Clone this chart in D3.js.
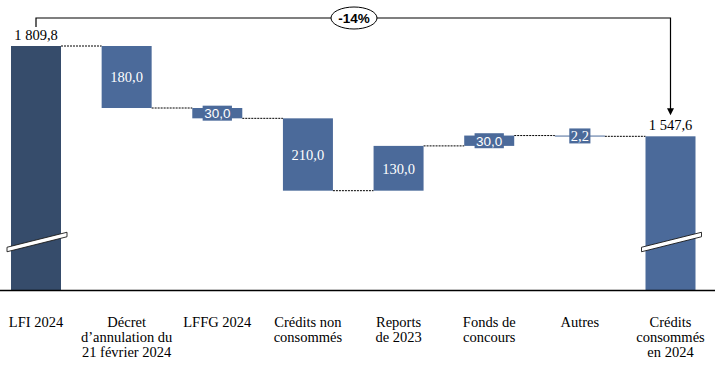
<!DOCTYPE html>
<html><head><meta charset="utf-8">
<script src="https://cdn.jsdelivr.net/npm/d3@7/dist/d3.min.js"></script>
<style>body{margin:0;background:#fff}svg{display:block}</style>
</head><body>
<svg id="c" width="723" height="369"></svg>
<script>
const categories = ["LFI 2024","Décret d’annulation du 21 février 2024","LFFG 2024","Crédits non consommés","Reports de 2023","Fonds de concours","Autres","Crédits consommés en 2024"];
const labelLines = [["LFI 2024"],["Décret","d’annulation du","21 février 2024"],["LFFG 2024"],["Crédits non","consommés"],["Reports","de 2023"],["Fonds de","concours"],["Autres"],["Crédits","consommés","en 2024"]];
const values = [1809.8,-180,-30,-210,130,30,-2.2,1547.6];
const kinds = ["total","delta","delta","delta","delta","delta","delta","total"];
const changeLabel = "-14%";

const SERIF = '"Liberation Serif"', SANS = '"Liberation Sans"';
const fr = d3.formatLocale({decimal:",",thousands:" ",grouping:[3],currency:["","€"]});
const fmt = fr.format(",.1f");

const svg = d3.select("#c");
const baseY = 290.5;
const x = d3.scalePoint().domain(categories).range([36,670.5]);
const bw = 50;
const y = d3.scaleLinear().domain([1100,1809.8]).range([baseY,46]);

const darkCol = "#364c6b", barCol = "#4b6a9a";

let run = 0;
const bars = categories.map((c,i)=>{
  let y0,y1;
  if(kinds[i]==="total"){ y0 = 1100; y1 = values[i]; run = values[i]; }
  else { y0 = run; y1 = run + values[i]; run = y1; }
  return {c,i,y0,y1,end:run,v:values[i]};
});

const gc = svg.append("g");
bars.slice(0,-1).forEach((b,i)=>{
  const n = bars[i+1];
  gc.append("line").attr("x1",x(b.c)+bw/2).attr("x2",x(n.c)-bw/2)
    .attr("y1",y(b.end)).attr("y2",y(b.end))
    .attr("stroke","#000").attr("stroke-width",1).attr("stroke-dasharray","2,1");
});

svg.append("g").selectAll("rect").data(bars).join("rect")
  .attr("x",d=>x(d.c)-bw/2).attr("width",bw)
  .attr("y",d=>y(Math.max(d.y0,d.y1)))
  .attr("height",d=>Math.max(1,Math.abs(y(d.y0)-y(d.y1))))
  .attr("fill",d=>d.i===0?darkCol:barCol);

svg.append("line").attr("x1",0).attr("x2",715).attr("y1",baseY).attr("y2",baseY)
  .attr("stroke","#000").attr("stroke-width",1.3);

bars.filter(d=>kinds[d.i]==="total").forEach(d=>{
  const cx = x(d.c);
  const l = cx-29, r = cx+31;
  const yl = 249.5, yr = 234.5, h = 4.5;
  svg.append("path")
    .attr("d",`M${l},${yl-h/2}L${r},${yr-h/2}L${r},${yr+h/2}L${l},${yl+h/2}Z`)
    .attr("fill","#fff").attr("stroke","#1a1a1a").attr("stroke-width",0.9);
});

const gl = svg.append("g");
bars.forEach(d=>{
  if(kinds[d.i]==="total"){
    gl.append("text").style("font-family",SERIF).attr("x",x(d.c)).attr("y",y(d.y1)-6)
      .attr("text-anchor","middle")
      .attr("font-size",14.5).attr("fill","#000").text(fmt(d.v));
  } else {
    const top = y(Math.max(d.y0,d.y1)), bot = y(Math.min(d.y0,d.y1));
    const mid = (top+bot)/2;
    const small = bot-top < 16;
    const isSans = Math.abs(d.v) >= 10 && small;
    const t = gl.append("text").style("font-family",isSans?SANS:SERIF)
      .attr("x",x(d.c)).attr("y",mid).attr("dy","0.36em")
      .attr("text-anchor","middle")
      .attr("font-size",isSans?13.5:14.5).attr("fill","#fff").text(fmt(Math.abs(d.v)));
    if(small){
      const bb = t.node().getBBox();
      gl.insert("rect","text").attr("x",bb.x-1.5).attr("width",bb.width+3)
        .attr("y",mid-7.5).attr("height",15).attr("fill",barCol);
    }
  }
});

const gx = svg.append("g");
categories.forEach((c,i)=>{
  const t = gx.append("text").style("font-family",SERIF).attr("x",x(c)).attr("y",327)
    .attr("text-anchor","middle")
    .attr("font-size",14.5).attr("fill","#000");
  labelLines[i].forEach((ln,j)=>{
    t.append("tspan").attr("x",x(c)).attr("dy",j===0?0:15).text(ln);
  });
});

const x0 = x(categories[0]), x1 = x(categories[categories.length-1]);
const topY = 18;
svg.append("path").attr("d",`M${x0},27V${topY}H${x1}V${y(values[7])-27}`)
  .attr("fill","none").attr("stroke","#000").attr("stroke-width",1.2);
const tipY = y(values[7])-21;
svg.append("path").attr("d",`M${x1-3.5},${tipY-7}L${x1+3.5},${tipY-7}L${x1},${tipY}Z`).attr("fill","#000");
const ex = 354;
svg.append("ellipse").attr("cx",ex).attr("cy",topY).attr("rx",23).attr("ry",11)
  .attr("fill","#fff").attr("stroke","#000").attr("stroke-width",1);
svg.append("text").style("font-family",SANS).attr("x",ex).attr("y",topY).attr("dy","0.36em").attr("text-anchor","middle")
  .attr("font-weight","bold").attr("font-size",13.5)
  .text(changeLabel);
</script>
</body></html>
